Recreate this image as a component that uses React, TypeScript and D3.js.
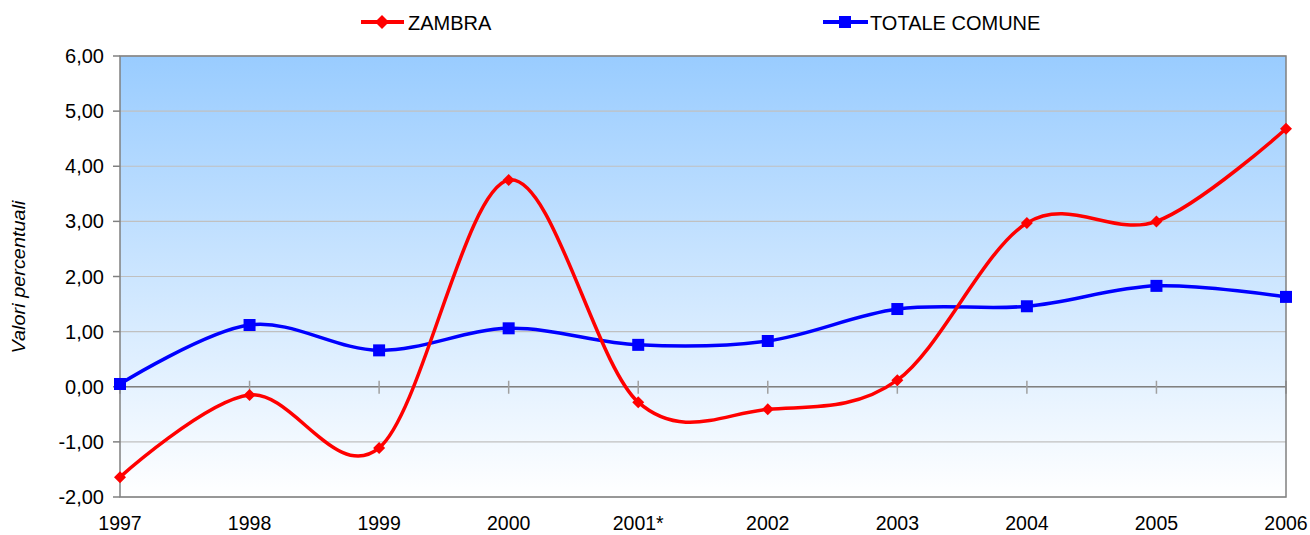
import React from "react";
import * as d3 from "d3";

const years = ["1997", "1998", "1999", "2000", "2001*", "2002", "2003", "2004", "2005", "2006"];
const zambra = [-1.64, -0.15, -1.11, 3.75, -0.28, -0.41, 0.12, 2.97, 3.0, 4.68];
const totale = [0.05, 1.12, 0.66, 1.06, 0.76, 0.83, 1.41, 1.46, 1.83, 1.63];
const yTicks = [-2, -1, 0, 1, 2, 3, 4, 5, 6];

const W = 1310;
const H = 535;
const left = 120;
const right = 1286;
const top = 56;
const bottom = 497;
const font = "'Liberation Sans', Arial, sans-serif";

const x = d3.scalePoint<string>().domain(years).range([left, right]);
const y = d3.scaleLinear().domain([-2, 6]).range([bottom, top]);
const fmt = (v: number) => v.toFixed(2).replace(".", ",");

const line = d3
  .line<number>()
  .x((_, i) => x(years[i]) as number)
  .y((d) => y(d))
  .curve(d3.curveCardinal.tension(0));

const Diamond = ({ cx, cy, r = 6 }: { cx: number; cy: number; r?: number }) => (
  <path d={`M${cx},${cy - r}L${cx + r},${cy}L${cx},${cy + r}L${cx - r},${cy}Z`} fill="#ff0000" />
);

const Square = ({ cx, cy, s = 12 }: { cx: number; cy: number; s?: number }) => (
  <rect x={cx - s / 2} y={cy - s / 2} width={s} height={s} fill="#0000ff" />
);

export default function App() {
  return (
    <svg width={W} height={H} style={{ display: "block", position: "absolute", left: 0, top: 0 }}>
      <defs>
        <linearGradient id="bg" x1="0" y1="0" x2="0" y2="1">
          <stop offset="0" stopColor="#99ccff" />
          <stop offset="1" stopColor="#ffffff" />
        </linearGradient>
      </defs>
      <rect x={left} y={top} width={right - left} height={bottom - top} fill="url(#bg)" />

      {/* grid + y ticks */}
      {yTicks.map((t) => (
        <g key={t}>
          <line x1={left} x2={right} y1={y(t)} y2={y(t)} stroke="#c0c0c0" strokeWidth={1.2} />
          <line x1={left - 7} x2={left} y1={y(t)} y2={y(t)} stroke="#808080" strokeWidth={1.5} />
          <text x={104} y={y(t) + 7} textAnchor="end" fontFamily={font} fontSize={20} fill="#000">
            {fmt(t)}
          </text>
        </g>
      ))}

      {/* category axis at zero */}
      <line x1={left} x2={right} y1={y(0)} y2={y(0)} stroke="#808080" strokeWidth={1.5} />
      {years.map((c) => (
        <line key={c} x1={x(c)} x2={x(c)} y1={y(0) - 6} y2={y(0) + 7} stroke="#a0a0a0" strokeWidth={1.5} />
      ))}

      {/* plot border */}
      <rect x={left} y={top} width={right - left} height={bottom - top} fill="none" stroke="#808080" strokeWidth={1.5} />

      {years.map((c) => (
        <text key={c} x={x(c)} y={530} textAnchor="middle" fontFamily={font} fontSize={19.5} fill="#000">
          {c}
        </text>
      ))}

      <text
        transform="translate(20,277) rotate(-90)"
        textAnchor="middle"
        dominantBaseline="middle"
        fontFamily={font}
        fontSize={19}
        fontStyle="italic"
        textLength={153}
        lengthAdjust="spacingAndGlyphs"
      >
        Valori percentuali
      </text>

      <path d={line(totale) || ""} fill="none" stroke="#0000ff" strokeWidth={3.5} />
      <path d={line(zambra) || ""} fill="none" stroke="#ff0000" strokeWidth={3.5} />
      {totale.map((v, i) => (
        <Square key={i} cx={x(years[i]) as number} cy={y(v)} />
      ))}
      {zambra.map((v, i) => (
        <Diamond key={i} cx={x(years[i]) as number} cy={y(v)} />
      ))}

      {/* legend */}
      <line x1={361} x2={404} y1={22} y2={22} stroke="#ff0000" strokeWidth={4} />
      <Diamond cx={382} cy={22} r={7} />
      <text x={408} y={30} fontFamily={font} fontSize={20}>
        ZAMBRA
      </text>
      <line x1={823} x2={868} y1={22} y2={22} stroke="#0000ff" strokeWidth={4} />
      <Square cx={845} cy={22} s={12} />
      <text x={870} y={30} fontFamily={font} fontSize={20}>
        TOTALE COMUNE
      </text>
    </svg>
  );
}
